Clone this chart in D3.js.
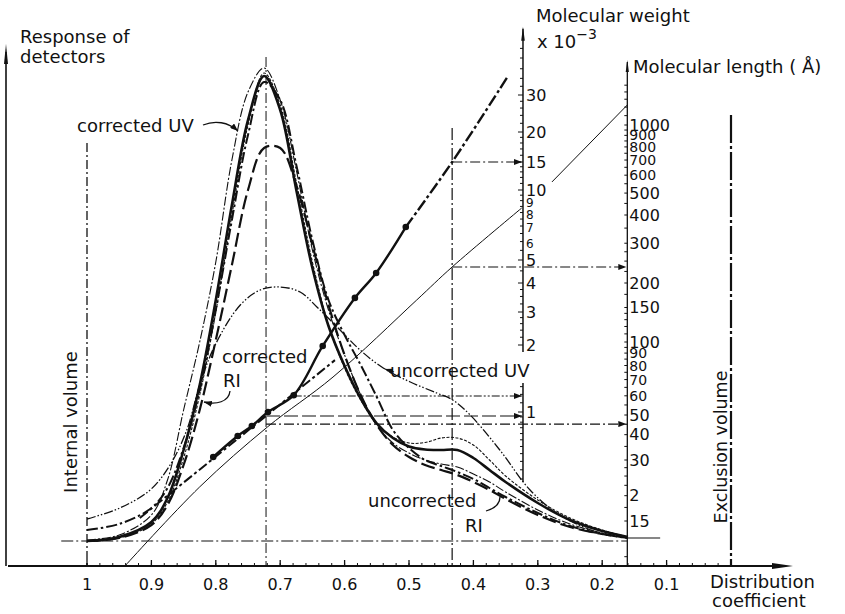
<!DOCTYPE html>
<html>
<head>
<meta charset="utf-8">
<script src="https://cdn.jsdelivr.net/npm/d3@7"></script>
<style>
  body { margin: 0; background: #fff; }
  svg { font-family: "DejaVu Sans", sans-serif; }
  text { fill: #111; }
</style>
</head>
<body>
<div id="chart"></div>
<script>
// distribution coefficient grid for the detector traces
const kGrid = [1.0, 0.95, 0.9, 0.875, 0.85, 0.825, 0.8, 0.775, 0.75, 0.725, 0.7, 0.675, 0.65, 0.625, 0.6,
  0.575, 0.55, 0.525, 0.5, 0.475, 0.45, 0.425, 0.4, 0.375, 0.35, 0.3, 0.25, 0.2, 0.16];

// detector response (arbitrary units, baseline = 0)
const uvCorrected = [0.2, 1.2, 5.2, 12.2, 26.2, 39.8, 55.8, 76.2, 89.8, 94.6, 88.2, 74.2, 58.2, 46.2, 37.2,
  29.2, 23.2, 19.6, 17.6, 16.2, 15.4, 14.8, 13.4, 11.8, 9.8, 6.2, 3.4, 1.6, 0.6];
const thickSolid = [0, 0.8, 3.8, 8.6, 18.2, 31.2, 48.2, 67.2, 84.2, 93, 86.2, 70.2, 54.6, 43, 35,
  28.5, 23.5, 20.6, 18.9, 18.3, 18.2, 18.2, 16.6, 14.2, 11.8, 7.6, 4.2, 2, 0.8];
const riCorrected = [2.2, 3.4, 6.6, 10.6, 18.6, 30.2, 46.2, 64.2, 81.2, 91.8, 88.2, 75.2, 60.2, 48.2, 41.2,
  35.2, 28.8, 22.2, 18.6, 16.2, 15, 13.8, 12.4, 10.6, 8.8, 5.6, 3, 1.4, 0.6];
const longDash = [0, 0.6, 3.2, 7.2, 15.2, 26.2, 40.2, 55.2, 70.2, 78.6, 78.6, 71.2, 59.2, 47.2, 37.2,
  29.2, 23.2, 19.2, 16.8, 15.2, 14.2, 13.2, 11.8, 10.2, 8.4, 5.2, 2.8, 1.4, 0.6];
const riUncorrected = [0, 0.6, 3.4, 7.8, 16.6, 29.2, 45.8, 65.2, 83.2, 93.6, 87.2, 71.8, 55.8, 43.2, 34.6,
  28.2, 23.4, 20.8, 19.6, 19.7, 20.6, 20.6, 19.2, 16.2, 13, 8.2, 4.6, 2.2, 0.8];

// uncorrected UV trace, own sampling
const uvUncorrK = [1.0, 0.949, 0.902, 0.871, 0.845, 0.825, 0.801, 0.762, 0.731, 0.7, 0.669, 0.643, 0.607,
  0.576, 0.54, 0.498, 0.457, 0.432, 0.405, 0.359, 0.312, 0.266, 0.203, 0.161];
const uvUncorr = [4.4, 6.6, 10.2, 15.2, 22.2, 31.2, 39.2, 47.2, 50.2, 50.8, 49.8, 46.8, 42.2, 38.2, 34.6,
  31.8, 29.6, 28.2, 25.2, 18.2, 10.2, 5.2, 1.6, 0.8];

// molecular weight calibration (x 10^-3)
const mwK = [0.804, 0.766, 0.744, 0.719, 0.679, 0.634, 0.584, 0.551, 0.505];
const mwVal = [0.628, 0.78, 0.865, 1.0, 1.19, 1.98, 3.45, 4.41, 6.93];
const mwUpperK = [0.505, 0.433, 0.348];
const mwUpperVal = [6.93, 15, 36.2];
const mwFitK = [0.918, 0.615];
const mwFitVal = [0.334, 1.71];

// molecular length calibration (Angstrom)
const mlK = [0.941, 0.825, 0.72, 0.618, 0.488, 0.433, 0.325];
const mlVal = [9.0, 22.1, 43.6, 71.7, 163.8, 235.5, 429.5];
const mlUpperK = [0.278, 0.161];
const mlUpperVal = [560, 1226];

// reference lines
const vRefK = [1.0, 0.722, 0.433, 0];
const vRefTop = [79.6, 96.8, 82.6, 85.2];
const hRefStartK = [0.433, 0.433, 0.679, 0.722, 0.722];
const hRefAxis = ['mw', 'ml', 'mw', 'mw', 'ml'];
const hRefVal = [15, 235.5, 1.18, 0.96, 45.1];

// ticks and labels
const xMajor = [1, 0.9, 0.8, 0.7, 0.6, 0.5, 0.4, 0.3, 0.2, 0.1];
const xLabels = ['1', '0.9', '0.8', '0.7', '0.6', '0.5', '0.4', '0.3', '0.2', '0.1'];
const mwKnots = [1, 2, 3, 4, 5, 10, 15, 20, 30];
const mwLabels = [30, 20, 15, 10, 9, 8, 7, 6, 5, 4, 3, 2, 1];
const mwTicks = [0.5, 0.55, 0.6, 0.65, 0.7, 0.75, 0.8, 0.85, 0.9, 0.95, 1, 1.1, 1.2, 1.3, 2, 2.2, 2.4, 2.6, 2.8,
  3, 3.25, 3.5, 3.75, 4, 4.5, 5, 5.5, 6, 6.5, 7, 7.5, 8, 8.5, 9, 9.5, 10, 11, 12, 13, 14, 15, 16, 17, 18, 19,
  20, 22, 24, 26, 28, 30, 33, 36, 40, 45, 50];
const mlKnots = [15, 30, 50, 100, 200, 400, 1000];
const mlLabelVal = [1000, 900, 800, 700, 600, 500, 400, 300, 200, 150, 100, 90, 80, 70, 60, 50, 40, 30, 20, 15];
const mlLabelText = ['1000', '900', '800', '700', '600', '500', '400', '300', '200', '150', '100', '90', '80',
  '70', '60', '50', '40', '30', '2', '15'];
const mlTicks = [10, 12.5, 15, 17.5, 20, 22.5, 25, 27.5, 30, 35, 40, 45, 50, 55, 60, 65, 70, 75, 80, 85, 90, 95,
  100, 110, 120, 130, 140, 150, 175, 200, 225, 250, 275, 300, 350, 400, 450, 500, 550, 600, 650, 700, 750,
  800, 850, 900, 950, 1000, 1100, 1200, 1300, 1400, 1500];

const W = 845, H = 614;
const axisY = 566;
const ink = '#111';

const svg = d3.select('#chart').append('svg')
    .attr('width', W)
    .attr('height', H);

const x = d3.scaleLinear().domain([1, 0]).range([87, 731]);
const y = d3.scaleLinear().domain([0, 100]).range([541, 41]);
// hand drawn log axes, not quite uniform
const mw = d3.scaleLog().domain(mwKnots).range([412, 345, 312, 283, 260, 190, 162, 132, 95]);
const ml = d3.scaleLog().domain(mlKnots).range([521, 460, 415, 342, 283, 215, 125]);
const mwX = x(0.323);
const mlX = x(0.161);

const defs = svg.append('defs');
defs.append('marker')
    .attr('id', 'arrow')
    .attr('markerUnits', 'userSpaceOnUse')
    .attr('markerWidth', 9).attr('markerHeight', 6)
    .attr('refX', 8).attr('refY', 3)
    .attr('orient', 'auto')
    .append('path')
    .attr('d', 'M0,0 L8,3 L0,6 Z')
    .attr('fill', ink);

// vertical reference lines
const vStyle = [['1.3', '9,3,2,3'], ['1', '10,3,2,3'], ['1.2', '12,3,2,3'], ['2.2', '28,3,3,3']];
vRefK.forEach((k, i) => {
    svg.append('line')
        .attr('x1', x(k)).attr('x2', x(k))
        .attr('y1', y(vRefTop[i])).attr('y2', axisY)
        .attr('stroke', ink)
        .attr('stroke-width', vStyle[i][0])
        .attr('stroke-dasharray', vStyle[i][1]);
});

// baseline
svg.append('line')
    .attr('x1', x(1.04)).attr('x2', x(0.161))
    .attr('y1', y(0)).attr('y2', y(0))
    .attr('stroke', ink).attr('stroke-width', 1.1)
    .attr('stroke-dasharray', '12,3,2,3');
svg.append('line')
    .attr('x1', x(0.161)).attr('x2', x(0.11))
    .attr('y1', y(0.6)).attr('y2', y(0.6))
    .attr('stroke', ink).attr('stroke-width', 1.1);

// horizontal read-off lines with arrows
const hStyle = ['10,3,2,3', '10,3,2,3', '8,2,2,2,2,2', '14,4', '10,3,2,3'];
hRefStartK.forEach((k, i) => {
    const yy = hRefAxis[i] === 'mw' ? mw(hRefVal[i]) : ml(hRefVal[i]);
    const xEnd = hRefAxis[i] === 'mw' ? mwX : mlX;
    svg.append('line')
        .attr('x1', x(k)).attr('x2', xEnd - 1)
        .attr('y1', yy).attr('y2', yy)
        .attr('stroke', ink).attr('stroke-width', 1.1)
        .attr('stroke-dasharray', hStyle[i])
        .attr('marker-end', 'url(#arrow)');
});

// x axis
svg.append('line')
    .attr('x1', 8).attr('x2', 778)
    .attr('y1', axisY).attr('y2', axisY)
    .attr('stroke', ink).attr('stroke-width', 2);
svg.append('path')
    .attr('d', `M772,${axisY - 3} L793,${axisY} L772,${axisY + 3} Z`)
    .attr('fill', ink);
const xMinor = d3.range(0.02, 1.001, 0.02);
svg.selectAll('.xminor')
    .data(xMinor)
    .enter().append('line')
    .attr('x1', d => x(d)).attr('x2', d => x(d))
    .attr('y1', axisY).attr('y2', axisY - 3)
    .attr('stroke', ink).attr('stroke-width', 1);
svg.selectAll('.xmajor')
    .data(xMajor)
    .enter().append('line')
    .attr('x1', d => x(d)).attr('x2', d => x(d))
    .attr('y1', axisY).attr('y2', axisY - 6)
    .attr('stroke', ink).attr('stroke-width', 1.3);
svg.selectAll('.xlab')
    .data(xMajor)
    .enter().append('text')
    .attr('x', d => x(d))
    .attr('y', 590)
    .attr('text-anchor', 'middle')
    .attr('font-size', 16)
    .text((d, i) => xLabels[i]);

// left response axis
svg.append('line')
    .attr('x1', 6).attr('x2', 6)
    .attr('y1', 52).attr('y2', axisY)
    .attr('stroke', ink).attr('stroke-width', 1.6);
svg.append('path')
    .attr('d', 'M4,64 L6,44 L8,64 Z')
    .attr('fill', ink);

// molecular weight axis
[[0.485, 1.35], [1.86, 62]].forEach(seg => {
    svg.append('line')
        .attr('x1', mwX).attr('x2', mwX)
        .attr('y1', mw(seg[0])).attr('y2', mw(seg[1]))
        .attr('stroke', ink).attr('stroke-width', 1.5);
});
svg.append('path')
    .attr('d', `M${mwX - 1.8},${mw(62) + 12} L${mwX},${mw(62) - 2} L${mwX + 1.8},${mw(62) + 12} Z`)
    .attr('fill', ink);
svg.selectAll('.mwtick')
    .data(mwTicks)
    .enter().append('line')
    .attr('x1', mwX).attr('x2', d => mwKnots.includes(d) ? mwX - 5 : mwX - 3)
    .attr('y1', d => mw(d)).attr('y2', d => mw(d))
    .attr('stroke', ink).attr('stroke-width', 1);
svg.selectAll('.mwlab')
    .data(mwLabels)
    .enter().append('text')
    .attr('x', mwX + 3)
    .attr('y', d => mw(d))
    .attr('dy', d => (d >= 6 && d <= 9) ? '0.5em' : '0.36em')
    .attr('font-size', d => (d >= 6 && d <= 9) ? 12 : 16)
    .text(d => d);

// molecular length axis
svg.append('line')
    .attr('x1', mlX).attr('x2', mlX)
    .attr('y1', ml(1900)).attr('y2', axisY)
    .attr('stroke', ink).attr('stroke-width', 1.3);
svg.append('path')
    .attr('d', `M${mlX - 1.6},${ml(1900) + 10} L${mlX},${ml(1900) - 2} L${mlX + 1.6},${ml(1900) + 10} Z`)
    .attr('fill', ink);
svg.selectAll('.mltick')
    .data(mlTicks)
    .enter().append('line')
    .attr('x1', mlX).attr('x2', mlX - 3)
    .attr('y1', d => ml(d)).attr('y2', d => ml(d))
    .attr('stroke', ink).attr('stroke-width', 1);
svg.selectAll('.mllab')
    .data(mlLabelVal)
    .enter().append('text')
    .attr('x', mlX + 2)
    .attr('y', d => ml(d))
    .attr('dy', '0.36em')
    .attr('font-size', d => ((d > 500 && d < 1000) || (d > 50 && d < 100)) ? 14 : 16)
    .text((d, i) => mlLabelText[i]);

// detector traces
const trace = d3.line()
    .x(d => x(d[0]))
    .y(d => y(d[1]))
    .curve(d3.curveCatmullRom.alpha(0.5));
const traces = [
    {vals: longDash, w: 2.2, dash: '14,5'},
    {vals: riUncorrected, w: 1.1, dash: '3,1.5'},
    {vals: uvCorrected, w: 1.1, dash: '9,2,2,2'},
    {vals: riCorrected, w: 2.0, dash: '11,3,2.5,3'},
    {vals: thickSolid, w: 2.6, dash: null},
];
traces.forEach(t => {
    svg.append('path')
        .datum(kGrid.map((k, i) => [k, t.vals[i]]))
        .attr('d', trace)
        .attr('fill', 'none')
        .attr('stroke', ink)
        .attr('stroke-width', t.w)
        .attr('stroke-dasharray', t.dash);
});
svg.append('path')
    .datum(uvUncorrK.map((k, i) => [k, uvUncorr[i]]))
    .attr('d', trace)
    .attr('fill', 'none')
    .attr('stroke', ink)
    .attr('stroke-width', 1.3)
    .attr('stroke-dasharray', '9,2,1.5,2,1.5,2');

// calibration lines
const mwLine = d3.line()
    .x(d => x(d[0]))
    .y(d => mw(d[1]))
    .curve(d3.curveCatmullRom.alpha(0.5));
const mlLine = d3.line()
    .x(d => x(d[0]))
    .y(d => ml(d[1]))
    .curve(d3.curveCatmullRom.alpha(0.5));

svg.append('path')
    .datum(mlK.map((k, i) => [k, mlVal[i]]))
    .attr('d', mlLine)
    .attr('fill', 'none').attr('stroke', ink).attr('stroke-width', 1);
svg.append('path')
    .datum(mlUpperK.map((k, i) => [k, mlUpperVal[i]]))
    .attr('d', mlLine)
    .attr('fill', 'none').attr('stroke', ink).attr('stroke-width', 1);

svg.append('path')
    .datum(mwFitK.map((k, i) => [k, mwFitVal[i]]))
    .attr('d', mwLine)
    .attr('fill', 'none').attr('stroke', ink).attr('stroke-width', 2)
    .attr('stroke-dasharray', '10,3,3,3');
svg.append('path')
    .datum(mwK.map((k, i) => [k, mwVal[i]]))
    .attr('d', mwLine)
    .attr('fill', 'none').attr('stroke', ink).attr('stroke-width', 2.4);
svg.append('path')
    .datum(mwUpperK.map((k, i) => [k, mwUpperVal[i]]))
    .attr('d', mwLine)
    .attr('fill', 'none').attr('stroke', ink).attr('stroke-width', 2.4)
    .attr('stroke-dasharray', '12,3,3,3');
svg.selectAll('.mwdot')
    .data(mwK)
    .enter().append('circle')
    .attr('cx', d => x(d))
    .attr('cy', (d, i) => mw(mwVal[i]))
    .attr('r', 3.3)
    .attr('fill', ink);

// annotations
const label = (tx, ty, str, size) => svg.append('text')
    .attr('x', tx).attr('y', ty)
    .attr('font-size', size || 18)
    .text(str);

label(20, 43, 'Response of');
label(20, 63, 'detectors');
label(536, 22, 'Molecular weight');
const mwUnit = label(537, 48, 'x 10');
mwUnit.append('tspan').attr('dy', -9).attr('font-size', 14).text('\u22123');
label(633, 73, 'Molecular length ( \u00C5)');
label(77, 132, 'corrected UV');
label(222, 363, 'corrected');
label(223, 387, 'RI');
label(390, 377, 'uncorrected UV');
label(368, 507, 'uncorrected');
label(465, 532, 'RI');
label(710, 588, 'Distribution');
label(712, 607, 'coefficient');

svg.append('text')
    .attr('transform', 'translate(77,422) rotate(-90)')
    .attr('text-anchor', 'middle')
    .attr('font-size', 18)
    .text('Internal volume');
svg.append('text')
    .attr('transform', 'translate(727,447) rotate(-90)')
    .attr('text-anchor', 'middle')
    .attr('font-size', 17.5)
    .text('Exclusion volume');

const pointer = (d) => svg.append('path')
    .attr('d', d)
    .attr('fill', 'none')
    .attr('stroke', ink)
    .attr('stroke-width', 1.3)
    .attr('marker-end', 'url(#arrow)');
pointer('M203,125 C215,120 228,122 238,131');
pointer('M230,391 C229,402 216,405 204,402');
pointer('M394,372 L385,369');
svg.append('path')
    .attr('d', 'M486,511 C496,508 500,503 500,497')
    .attr('fill', 'none').attr('stroke', ink).attr('stroke-width', 1.3);
</script>
</body>
</html>
